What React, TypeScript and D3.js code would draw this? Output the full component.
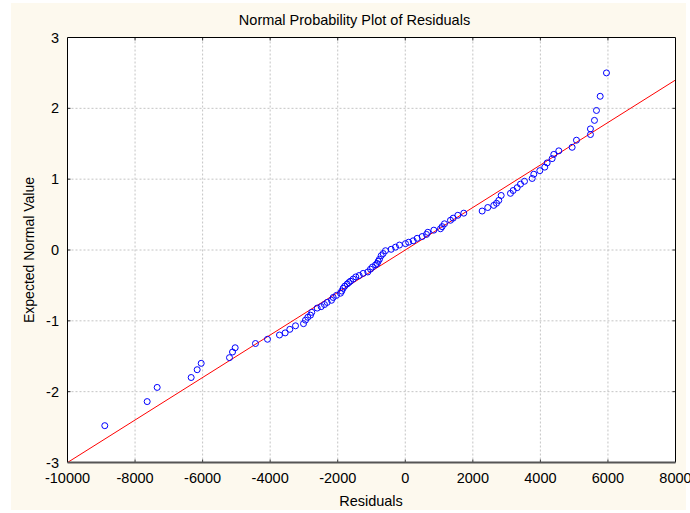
import React from "react";
import * as d3 from "d3";

const residuals = [
  -8896, -7641, -7345, -6339, -6161, -6042, -5204, -5115, -5036, -4435,
  -4079, -3724, -3556, -3419, -3250, -3013, -2954, -2886, -2806, -2768,
  -2608, -2490, -2392, -2312, -2185, -2134, -2037, -1918, -1880, -1839,
  -1791, -1720, -1673, -1622, -1542, -1465, -1365, -1246, -1110, -1030,
  -971, -880, -832, -802, -764, -713, -654, -586, -418, -290,
  -172, 6, 100, 234, 352, 500, 628, 667, 845, 1042,
  1092, 1160, 1338, 1418, 1555, 1732, 2276, 2442, 2620, 2700,
  2768, 2839, 3114, 3194, 3313, 3411, 3529, 3757, 3805, 3983,
  4130, 4200, 4348, 4397, 4545, 4940, 5068, 5482, 5482, 5601,
  5660, 5770, 5956,
];
const expected = [
  -2.48, -2.14, -1.94, -1.8, -1.69, -1.6, -1.52, -1.44, -1.38, -1.32,
  -1.26, -1.2, -1.17, -1.12, -1.07, -1.04, -0.99, -0.95, -0.92, -0.88,
  -0.82, -0.8, -0.77, -0.74, -0.71, -0.67, -0.64, -0.61, -0.58, -0.54,
  -0.51, -0.48, -0.46, -0.44, -0.41, -0.38, -0.36, -0.33, -0.31, -0.27,
  -0.24, -0.21, -0.19, -0.16, -0.13, -0.08, -0.05, -0.01, 0.01, 0.04,
  0.07, 0.09, 0.11, 0.13, 0.165, 0.19, 0.22, 0.25, 0.28, 0.3,
  0.33, 0.37, 0.42, 0.45, 0.49, 0.52, 0.55, 0.6, 0.63, 0.66,
  0.7, 0.77, 0.8, 0.84, 0.88, 0.93, 0.97, 1.01, 1.07, 1.12,
  1.17, 1.23, 1.29, 1.35, 1.4, 1.45, 1.55, 1.63, 1.71, 1.83,
  1.97, 2.17, 2.5,
];
const xTicks = [-10000, -8000, -6000, -4000, -2000, 0, 2000, 4000, 6000, 8000];
const yTicks = [-3, -2, -1, 0, 1, 2, 3];
const fitLineX = [-10000, 8000];
const fitSlope = 0.0003;

export default function App() {
  const W = 690, H = 513;
  const L = 67.5, R = 675.5, T = 37.5, B = 462.5;
  const x = d3.scaleLinear().domain([-10000, 8000]).range([L, R]);
  const y = d3.scaleLinear().domain([-3, 3]).range([B, T]);
  const font = "'Liberation Sans', Arial, sans-serif";
  const fs = 14.5;
  const line = d3
    .line<number>()
    .x((d) => x(d))
    .y((d) => y(d * fitSlope));
  return (
    <svg
      width={W}
      height={H}
      style={{ position: "absolute", left: 0, top: 0, background: "#ffffff" }}
    >
      <rect x={11} y={3} width={675} height={507} fill="#fdf9ee" />
      <rect x={L} y={T} width={R - L} height={B - T} fill="#ffffff" />
      <defs>
        <clipPath id="plot">
          <rect x={L} y={T} width={R - L} height={B - T} />
        </clipPath>
      </defs>
      {xTicks.slice(1, -1).map((t) => (
        <line
          key={"gx" + t}
          x1={x(t)}
          x2={x(t)}
          y1={T}
          y2={B}
          stroke="#c4c4c4"
          strokeWidth={1}
          strokeDasharray="2,2"
        />
      ))}
      {yTicks.slice(1, -1).map((t) => (
        <line
          key={"gy" + t}
          x1={L}
          x2={R}
          y1={y(t)}
          y2={y(t)}
          stroke="#c4c4c4"
          strokeWidth={1}
          strokeDasharray="2,2"
        />
      ))}
      {xTicks.slice(1, -1).map((t) => (
        <g key={"tx" + t}>
          <line x1={x(t)} x2={x(t)} y1={B} y2={B - 3} stroke="#333" />
          <line x1={x(t)} x2={x(t)} y1={T} y2={T + 3} stroke="#333" />
        </g>
      ))}
      {yTicks.slice(1, -1).map((t) => (
        <g key={"ty" + t}>
          <line x1={L} x2={L + 3} y1={y(t)} y2={y(t)} stroke="#333" />
          <line x1={R} x2={R - 3} y1={y(t)} y2={y(t)} stroke="#333" />
        </g>
      ))}
      <g clipPath="url(#plot)">
        <path d={line(fitLineX) || ""} stroke="#ff0000" strokeWidth={1} fill="none" />
        {residuals.map((r, i) => (
          <circle
            key={i}
            cx={x(r)}
            cy={y(expected[i])}
            r={3}
            fill="none"
            stroke="#0000ff"
            strokeWidth={1}
          />
        ))}
      </g>
      <line x1={L} x2={R} y1={T} y2={T} stroke="#000" strokeWidth={1} />
      <line x1={L} x2={L} y1={T} y2={B} stroke="#000" strokeWidth={1} />
      <line x1={R} x2={R} y1={T} y2={B} stroke="#000" strokeWidth={1} />
      <line x1={L} x2={R} y1={B} y2={B} stroke="#555" strokeWidth={2} />
      {xTicks.map((t) => (
        <text
          key={"lx" + t}
          x={x(t)}
          y={B + 20.5}
          textAnchor="middle"
          fontFamily={font}
          fontSize={fs}
          fill="#000"
        >
          {t}
        </text>
      ))}
      {yTicks.map((t) => (
        <text
          key={"ly" + t}
          x={L - 8.5}
          y={y(t) + 5}
          textAnchor="end"
          fontFamily={font}
          fontSize={fs}
          fill="#000"
        >
          {t}
        </text>
      ))}
      <text
        x={354.5}
        y={25}
        textAnchor="middle"
        fontFamily={font}
        fontSize={fs}
        fill="#000"
      >
        Normal Probability Plot of Residuals
      </text>
      <text
        x={371}
        y={506}
        textAnchor="middle"
        fontFamily={font}
        fontSize={fs}
        fill="#000"
      >
        Residuals
      </text>
      <text
        transform={`translate(34,${(T + B) / 2}) rotate(-90)`}
        textAnchor="middle"
        fontFamily={font}
        fontSize={14}
        fill="#000"
      >
        Expected Normal Value
      </text>
    </svg>
  );
}
